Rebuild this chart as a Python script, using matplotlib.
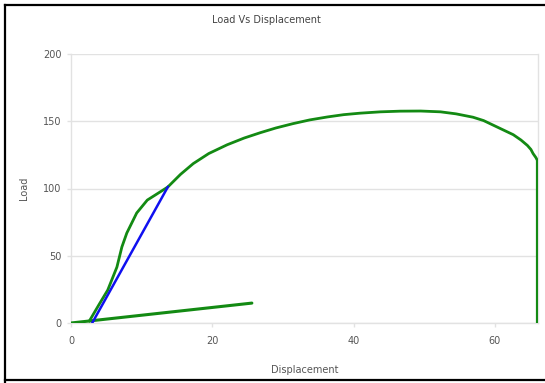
"""
Load vs displacement curve with elastic-slope construction lines.
Output: out.png
"""
import matplotlib
matplotlib.use("Agg")
import matplotlib.pyplot as plt
from matplotlib.lines import Line2D

# Load-displacement record (main curve)
disp = [2.6, 4.0, 5.2, 6.5, 7.2, 7.9, 9.3, 10.8, 12.6, 13.7, 15.5, 17.3, 19.5,
        22.1, 24.5, 26.8, 29.0, 31.4, 33.8, 36.3, 38.6, 40.9, 43.8, 46.6, 49.5,
        52.3, 54.5, 56.9, 58.4, 59.8, 61.2, 62.6, 63.7, 64.6, 65.1, 65.4, 65.8,
        66.0, 66.0]
load = [1.5, 14.0, 24.5, 41.6, 56.5, 66.9, 81.8, 91.4, 97.4, 101.1, 110.5, 118.5,
        126.0, 132.5, 137.5, 141.5, 145.0, 148.2, 151.0, 153.2, 154.9, 156.0,
        157.0, 157.5, 157.6, 157.0, 155.5, 153.0, 150.5, 147.0, 143.5, 140.0,
        136.0, 132.0, 129.0, 126.0, 123.0, 121.0, 0.0]

# Elastic slope line (blue) and toe line (green)
slope_x = [3.0, 13.7]
slope_y = [0.0, 101.1]
toe_x = [0.0, 25.6]
toe_y = [0.0, 14.8]

xticks = [0, 20, 40, 60]
yticks = [0, 50, 100, 150, 200]

GREEN = "#138a13"
BLUE = "#1010f0"
TEXT = "#555555"
GRID = "#e2e2e2"

plt.rcParams["font.family"] = ["DejaVu Sans"]

fig = plt.figure(figsize=(5.45, 3.83), dpi=100)
ax = fig.add_axes([71 / 545, 1 - 323 / 383, (538 - 71) / 545, (323 - 54) / 383])

ax.plot(toe_x, toe_y, color=GREEN, linewidth=2.2, solid_capstyle="round", zorder=3)
ax.plot(disp, load, color=GREEN, linewidth=2.0, solid_joinstyle="round", zorder=3)
ax.plot(slope_x, slope_y, color=BLUE, linewidth=1.8, zorder=4)

ax.set_xlim(0, 66.1)
ax.set_ylim(0, 200)
ax.set_xticks(xticks)
ax.set_yticks(yticks)
ax.grid(axis="y", color=GRID, linewidth=1.0)
ax.set_axisbelow(True)

for side in ["left", "bottom", "right"]:
    ax.spines[side].set_color(GRID)
    ax.spines[side].set_linewidth(1.0)
ax.spines["top"].set_visible(False)

ax.tick_params(axis="both", colors=GRID, labelcolor=TEXT, labelsize=7,
               length=3, width=1.0)
ax.tick_params(axis="x", pad=6)
ax.tick_params(axis="y", pad=4)

ax.set_xlabel("Displacement", fontsize=7, color=TEXT, labelpad=14)
ax.set_ylabel("Load", fontsize=7, color=TEXT, labelpad=10)
fig.text(266 / 545, 1 - 20 / 383, "Load Vs Displacement", fontsize=7,
         color="#444444", ha="center", va="center")

# Screenshot frame
frame = dict(color="black", linewidth=1.6, transform=fig.transFigure)
fig.add_artist(Line2D([5 / 545, 5 / 545], [0, 1 - 5 / 383], **frame))
fig.add_artist(Line2D([5 / 545, 1], [1 - 5 / 383, 1 - 5 / 383], **frame))
fig.add_artist(Line2D([5 / 545, 1], [1 - 380 / 383, 1 - 380 / 383], **frame))

fig.savefig("out.png", dpi=100)
